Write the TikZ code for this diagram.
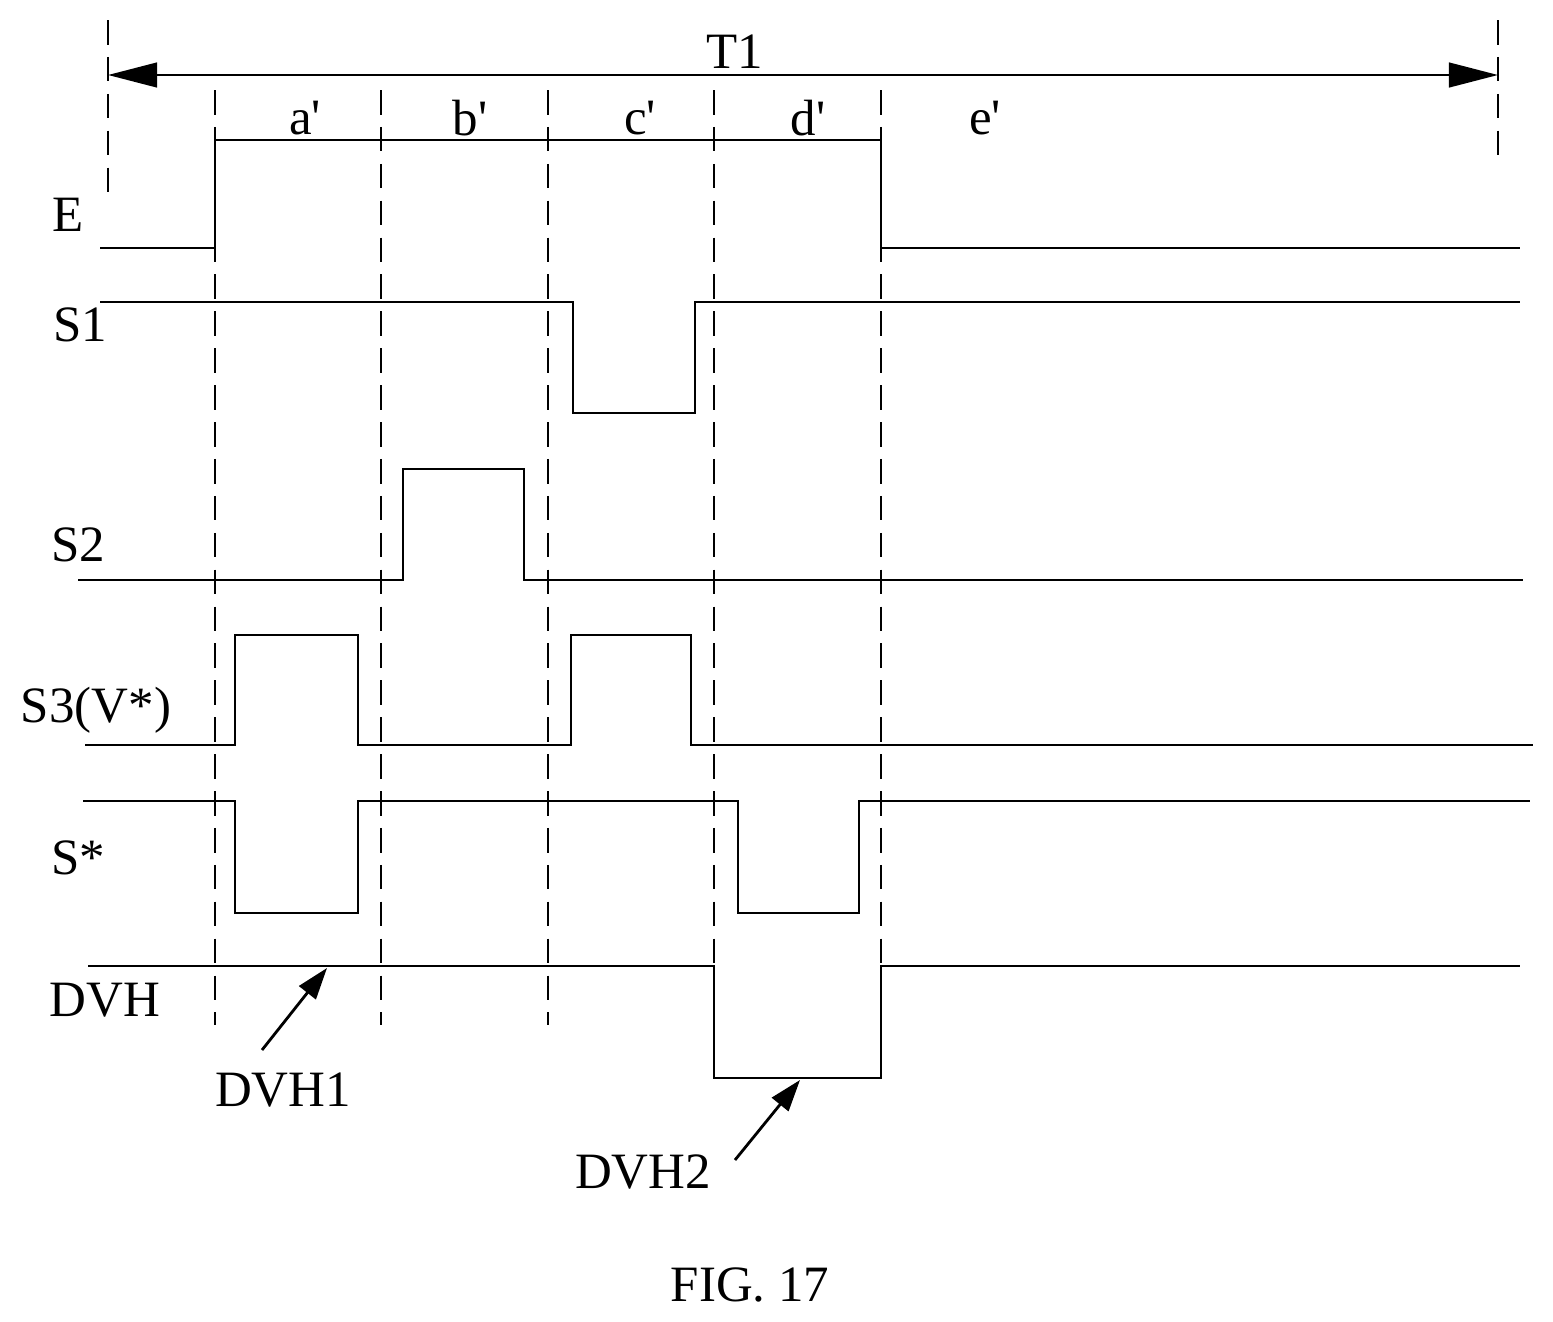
\documentclass[tikz,border=0pt]{standalone}
\usepackage{fontspec}
\setmainfont{Liberation Serif}
\usepackage{tikz}
\usetikzlibrary{arrows.meta,positioning}
\tikzset{
  sig/.style={line width=1.6pt},
  grid/.style={line width=1.3pt, dash pattern=on 14pt off 7pt},
  lbl/.style={font=\fontsize{29}{33}\selectfont, inner sep=1pt},
  ptr/.style={line width=1.6pt, -{Triangle[length=18pt,width=12pt]}}
}
\begin{document}
\begin{tikzpicture}[x=0.02cm,y=-0.02cm]
  \useasboundingbox (0,0) rectangle (1553,1322);
  % period T1
  \draw[grid] (108,20) -- (108,200);
  \draw[grid] (1498,20) -- (1498,165);
  \coordinate (t1l) at (108,75);
  \coordinate (t1r) at (1498,75);
  \draw[line width=1.6pt, {Triangle[length=28pt,width=14pt]}-{Triangle[length=28pt,width=14pt]}] (t1l) -- (t1r);
  \node[lbl] (t1) at (735,52) {T1};
  % phase boundaries
  \foreach \x in {215,381,548,714,881}
    \draw[grid] (\x,90) -- (\x,1025);
  \node[lbl] (pa) at (305,118) {a\textquotesingle};
  \node[lbl] (pb) at (470,118) {b\textquotesingle};
  \node[lbl] (pc) at (640,118) {c\textquotesingle};
  \node[lbl] (pd) at (808,118) {d\textquotesingle};
  \node[lbl] (pe) at (985,118) {e\textquotesingle};
  % signals
  \draw[sig] (100,248) -- (215,248) -- (215,140) -- (881,140) -- (881,248) -- (1520,248);
  \draw[sig] (100,302) -- (573,302) -- (573,413) -- (695,413) -- (695,302) -- (1520,302);
  \draw[sig] (78,580) -- (403,580) -- (403,469) -- (524,469) -- (524,580) -- (1523,580);
  \draw[sig] (85,745) -- (235,745) -- (235,635) -- (358,635) -- (358,745) -- (571,745) -- (571,635) -- (691,635) -- (691,745) -- (1533,745);
  \draw[sig] (83,801) -- (235,801) -- (235,913) -- (358,913) -- (358,801) -- (738,801) -- (738,913) -- (859,913) -- (859,801) -- (1530,801);
  \draw[sig] (88,966) -- (714,966) -- (714,1078) -- (881,1078) -- (881,966) -- (1520,966);
  % signal names
  \node[lbl] (lE) at (68,215) {E};
  \node[lbl] (lS1) at (80,325) {S1};
  \node[lbl] (lS2) at (78,545) {S2};
  \node[lbl] (lS3) at (96,710) {S3(V*)};
  \node[lbl] (lSs) at (78,858) {S*};
  \node[lbl] (lDVH) at (105,1000) {DVH};
  % level pointers
  \node[lbl] (dvh1) at (283,1090) {DVH1};
  \node[lbl] (dvh2) at (643,1172) {DVH2};
  \coordinate (dvh1tip) at (327,968);
  \coordinate (dvh2tip) at (800,1080);
  \draw[ptr] (262,1050) -- (dvh1tip);
  \draw[ptr] (735,1160) -- (dvh2tip);
  \node[lbl] (fig) at (750,1285) {FIG. 17};
\end{tikzpicture}
\end{document}
